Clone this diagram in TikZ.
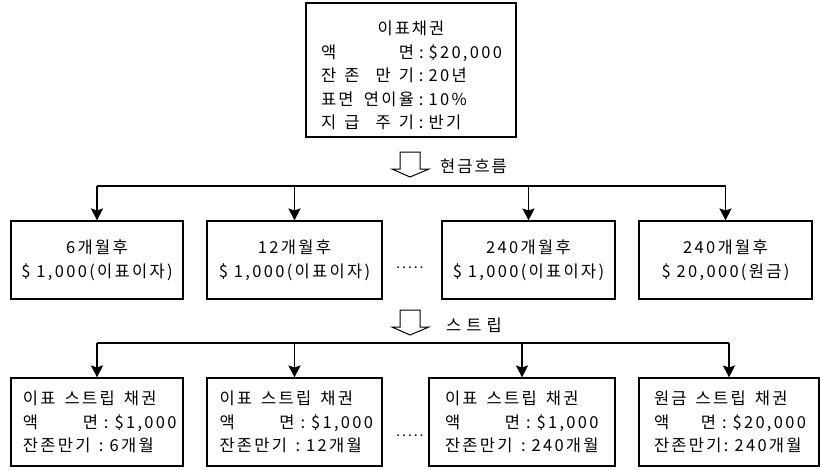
\documentclass[tikz,border=0pt]{standalone}
\usepackage{fontspec}
\setmainfont{Noto Sans CJK KR}[LetterSpace=14]
\usetikzlibrary{arrows.meta}
\newcommand{\sep}{\hspace{6pt}:\hspace{6pt}}
\newcommand{\tsep}{\hspace{5pt}:\hspace{5pt}}
\begin{document}
\begin{tikzpicture}[x=1pt,y=-1pt,
  box/.style={draw, line width=1.1pt, inner sep=0pt, font=\fontsize{16.5}{23.5}\selectfont},
  txt/.style={inner sep=0pt, font=\fontsize{16.5}{23.5}\selectfont},
  conn/.style={line width=1.1pt},
  arr/.style={conn, -{Stealth[length=12pt,width=12pt,inset=2pt]}},
  hollow/.style={line width=1pt, line join=miter},
  lbl/.style={font=\fontsize{16.5}{17}\selectfont, anchor=west, inner sep=0pt},
  dotsty/.style={font=\fontsize{14}{17}\selectfont, anchor=base, inner sep=0pt}
]
\useasboundingbox (0,0) rectangle (820,469);

% top box
\node[box, minimum width=210pt, minimum height=134pt] (top) at (411,70) {};
\node[txt, align=left] (toptxt) at (411,75.5) {%
\makebox[180pt]{이\kern2pt 표\kern2pt 채\kern2pt 권}\\
\makebox[180pt][l]{\makebox[93pt][s]{액\hfill 면}\tsep\$20,000}\\
\makebox[180pt][l]{\makebox[93pt][s]{잔\hfill 존\hfill\hfill 만\hfill 기}\tsep 20년}\\
\makebox[180pt][l]{\makebox[93pt][s]{표면\hfill 연이율}\tsep 10\%}\\
\makebox[180pt][l]{\makebox[93pt][s]{지\hfill 급\hfill\hfill 주\hfill 기}\tsep 반기}};

% hollow arrow 1 and label
\draw[hollow] (400,152) -- (400,169) -- (392,169) -- (410,177) -- (429,169) -- (420,169) -- (420,152) -- cycle;
\node[lbl] (cf) at (440,166) {현\kern2pt 금\kern2pt 흐\kern2pt 름};

% row 2
\node[box, minimum width=172pt, minimum height=78pt, align=center] (c1) at (97,260) {6개월후\\\$ 1,000(이표이자)};
\node[box, minimum width=175pt, minimum height=78pt, align=center] (c2) at (294.5,260) {12개월후\\\$ 1,000(이표이자)};
\node[box, minimum width=173pt, minimum height=78pt, align=center] (c3) at (528.5,260) {240개월후\\\$ 1,000(이표이자)};
\node[box, minimum width=173pt, minimum height=78pt, align=center] (c4) at (725.5,260) {240개월후\\\$ 20,000(원금)};
\node[dotsty] (d1) at (410,268) {.....};

\coordinate (bus1) at (0,186);
\draw[conn] (c1.north |- bus1) -- (c4.north |- bus1);
\foreach \n in {c1,c2,c3,c4} \draw[arr] (\n.north |- bus1) -- (\n.north);

% hollow arrow 2 and label
\draw[hollow] (400,310) -- (400,327) -- (392,327) -- (410,335) -- (429,327) -- (420,327) -- (420,310) -- cycle;
\node[lbl] (st) at (446,325) {스\kern5pt 트\kern5pt 립};

% row 3
\node[box, minimum width=172pt, minimum height=88pt, align=left] (s1) at (97,422) {%
\makebox[148pt][l]{이표\hspace{9pt}스트립\hspace{9pt}채권}\\
\makebox[148pt][l]{\makebox[75pt][s]{액\hfill 면}\sep\$1,000}\\
\makebox[148pt][l]{\makebox[70pt][l]{잔존만기}\sep 6개월}};
\node[box, minimum width=175pt, minimum height=88pt, align=left] (s2) at (294.5,422) {%
\makebox[150pt][l]{이표\hspace{9pt}스트립\hspace{9pt}채권}\\
\makebox[150pt][l]{\makebox[75pt][s]{액\hfill 면}\sep\$1,000}\\
\makebox[150pt][l]{\makebox[70pt][l]{잔존만기}\sep 12개월}};
\node[box, minimum width=186pt, minimum height=88pt, align=left] (s3) at (522,422) {%
\makebox[154pt][l]{이표\hspace{9pt}스트립\hspace{9pt}채권}\\
\makebox[154pt][l]{\makebox[75pt][s]{액\hfill 면}\sep\$1,000}\\
\makebox[154pt][l]{\makebox[70pt][l]{잔존만기}\sep 240개월}};
\node[box, minimum width=180pt, minimum height=88pt, align=left] (s4) at (729,422) {%
\makebox[150pt][l]{원금\hspace{9pt}스트립\hspace{9pt}채권}\\
\makebox[150pt][l]{\makebox[62pt][s]{액\hfill 면}\sep\$20,000}\\
\makebox[150pt][l]{\makebox[62pt][l]{잔존만기}\hspace{2pt}\sep 240개월}};
\node[dotsty] (d2) at (410,436) {.....};

\coordinate (bus2) at (0,343);
\draw[conn] (s1.north |- bus2) -- (s4.north |- bus2);
\foreach \n in {s1,s2,s3,s4} \draw[arr] (\n.north |- bus2) -- (\n.north);
\end{tikzpicture}
\end{document}
